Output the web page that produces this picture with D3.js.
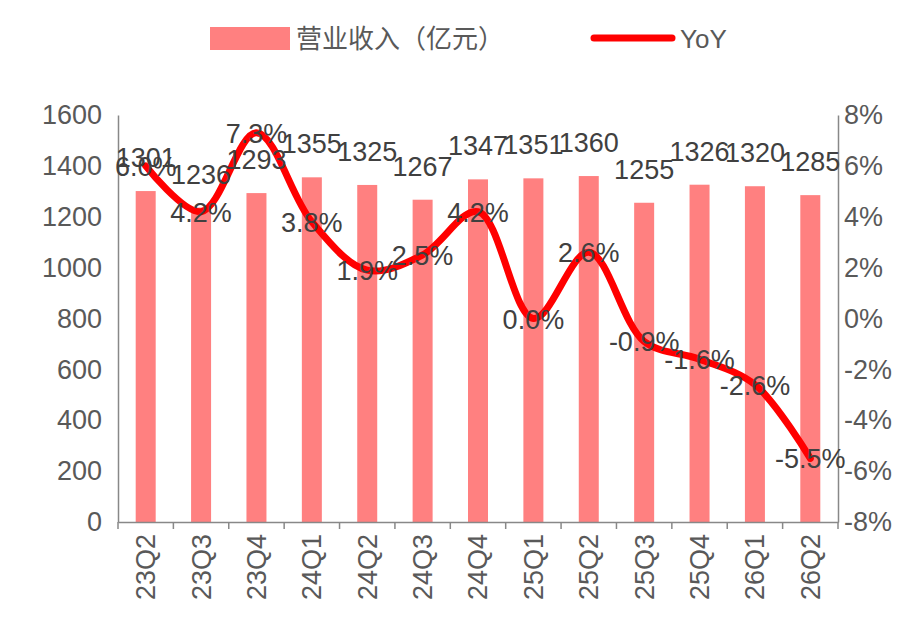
<!DOCTYPE html>
<html><head><meta charset="utf-8">
<script src="https://cdn.jsdelivr.net/npm/d3@7"></script>
<style>body{margin:0;background:#fff}svg{font-family:"Liberation Sans","Noto Sans CJK SC",sans-serif}</style>
</head><body>
<svg id="c" width="920" height="628"></svg>
<script>
const categories=["23Q2","23Q3","23Q4","24Q1","24Q2","24Q3","24Q4","25Q1","25Q2","25Q3","25Q4","26Q1","26Q2"];
const revenue=[1301,1236,1293,1355,1325,1267,1347,1351,1360,1255,1326,1320,1285];
const yoy=[6.0,4.2,7.3,3.8,1.9,2.5,4.2,0.0,2.6,-0.9,-1.6,-2.6,-5.5];
const leftTicks=[0,200,400,600,800,1000,1200,1400,1600];
const rightTicks=[-8,-6,-4,-2,0,2,4,6,8];

const svg=d3.select("#c");
const L=118,R=838,T=115,B=522;
const xc=d3.scaleBand().domain(categories).range([L,R]);
const y=d3.scaleLinear().domain([0,1600]).range([B,T]);
const y2=d3.scaleLinear().domain([-8,8]).range([B,T]);
const grey="#595959", axc="#888";

svg.selectAll("rect.bar").data(revenue).join("rect")
 .attr("x",(d,i)=>xc(categories[i])+xc.bandwidth()/2-10).attr("width",20)
 .attr("y",d=>y(d)).attr("height",d=>B-y(d)).attr("fill","#FF8080");

const ga=svg.append("g").attr("transform",`translate(${L},0)`).call(d3.axisLeft(y).tickValues(leftTicks).tickSize(0).tickPadding(16).tickFormat(d3.format("d")));
const gb=svg.append("g").attr("transform",`translate(${R},0)`).call(d3.axisRight(y2).tickValues(rightTicks).tickSize(0).tickPadding(6).tickFormat(d=>d+"%"));
const gx=svg.append("g").attr("transform",`translate(0,${B})`).call(d3.axisBottom(xc).tickSize(0).tickPadding(0));
[ga,gb,gx].forEach(g=>{g.select(".domain").attr("stroke",axc).attr("stroke-width",1.5);g.selectAll("text").attr("fill",grey).attr("font-size",27);});
gx.selectAll(".tick text").attr("transform","rotate(-90)").attr("text-anchor","end").attr("dx",-12).attr("dy","0.35em").attr("y",0).attr("x",0);
svg.append("g").selectAll("line").data(categories.concat(["end"])).join("line")
 .attr("x1",(d,i)=>L+i*xc.step()).attr("x2",(d,i)=>L+i*xc.step()).attr("y1",B).attr("y2",B+7).attr("stroke",axc).attr("stroke-width",1.5);

const line=d3.line().x((d,i)=>xc(categories[i])+xc.bandwidth()/2).y(d=>y2(d)).curve(d3.curveCatmullRom.alpha(0.5));
svg.append("path").datum(yoy).attr("d",line).attr("fill","none").attr("stroke","#FF0000").attr("stroke-width",7).attr("stroke-linecap","round");

svg.selectAll("text.bl").data(revenue).join("text")
 .attr("x",(d,i)=>xc(categories[i])+xc.bandwidth()/2).attr("y",d=>y(d)-24)
 .attr("text-anchor","middle").attr("font-size",27).attr("fill","#404040").text(d=>d);
svg.selectAll("text.yl").data(yoy).join("text")
 .attr("x",(d,i)=>xc(categories[i])+xc.bandwidth()/2).attr("y",d=>y2(d)+10)
 .attr("text-anchor","middle").attr("font-size",27).attr("fill","#404040").text(d=>d.toFixed(1)+"%");

svg.append("rect").attr("x",210).attr("y",27).attr("width",80).attr("height",23).attr("fill","#FF8080");
svg.append("text").attr("x",296).attr("y",48).attr("font-size",26).attr("fill",grey).text("营业收入（亿元）");
svg.append("line").attr("x1",594).attr("x2",672).attr("y1",38).attr("y2",38).attr("stroke","#FF0000").attr("stroke-width",7).attr("stroke-linecap","round");
svg.append("text").attr("x",680).attr("y",48).attr("font-size",26).attr("fill",grey).text("YoY");
</script>
</body></html>
